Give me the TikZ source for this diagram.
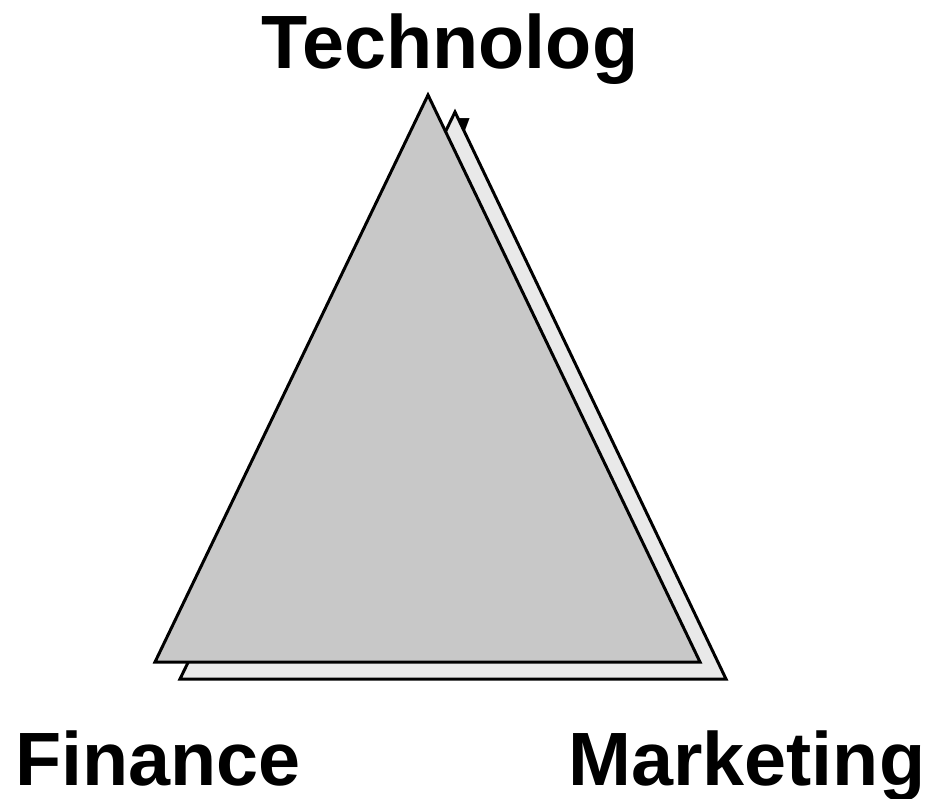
\documentclass[tikz,border=0pt]{standalone}
\usepackage{fontspec}
\setmainfont{Liberation Sans}
\usetikzlibrary{positioning}

\definecolor{frontgray}{HTML}{C8C8C8}
\definecolor{backgray}{HTML}{E9E9E9}

\begin{document}
\begin{tikzpicture}
[x=0.02cm,y=-0.02cm
,lbl/.style={inner sep=0pt,font=\fontsize{43}{51}\selectfont\bfseries}
,tri/.style={draw=black,line width=1.7pt,line join=miter}
]
\useasboundingbox (0,0) rectangle (932,798);
% heading sits behind the triangles, its second line is covered
\node[lbl,align=center,anchor=base] (tech) at (450,158) {Technolog\\y};
% back and front triangle
\draw[tri,fill=backgray] (455,112) -- (726,679) -- (180,679) -- cycle;
\draw[tri,fill=frontgray] (428,95) -- (700,662) -- (155,662) -- cycle;
% corner labels
\node[lbl,anchor=base west] (fin) at (15,785) {Finance};
\node[lbl,anchor=base west] (mkt) at (568,785) {Marketing};
\end{tikzpicture}
\end{document}
